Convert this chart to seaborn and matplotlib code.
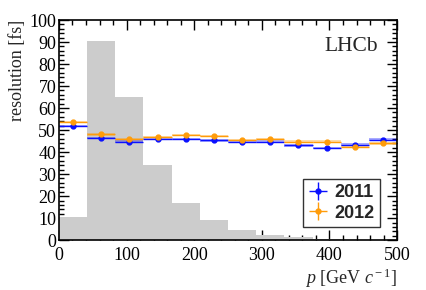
import numpy as np
import matplotlib
matplotlib.use("Agg")
import matplotlib.pyplot as plt
import seaborn as sns

# momentum bins [GeV/c]
bin_edges = [0, 41.67, 83.33, 125, 166.67, 208.33, 250, 291.67, 333.33, 375, 416.67, 458.33, 500]
# momentum distribution (grey histogram, arbitrary units)
hist_counts = [10.7, 90.5, 65.2, 34.2, 17.0, 9.0, 4.6, 2.5, 1.2, 0.5, 0.25, 0.1]
# decay time resolution [fs]
res_2011 = [51.9, 46.4, 44.8, 45.8, 45.8, 45.3, 44.6, 44.8, 43.0, 41.9, 43.3, 45.7]
res_2012 = [53.6, 48.0, 46.1, 47.0, 47.8, 47.3, 45.4, 45.8, 44.7, 44.7, 42.4, 43.9]
err_2011 = [0.6, 0.5, 0.5, 0.5, 0.5, 0.5, 0.5, 0.5, 0.6, 0.6, 0.7, 0.8]
err_2012 = [0.6, 0.5, 0.5, 0.5, 0.5, 0.5, 0.5, 0.5, 0.6, 0.6, 0.7, 0.8]

sns.set_theme(style="ticks")
plt.rcParams['font.family'] = ['Liberation Serif', 'DejaVu Serif']
plt.rcParams['mathtext.fontset'] = 'custom'
plt.rcParams['mathtext.rm'] = 'Liberation Serif'
plt.rcParams['mathtext.it'] = 'Liberation Serif:italic'

edges = np.array(bin_edges)
centers = 0.5 * (edges[:-1] + edges[1:])
half_w = 0.5 * np.diff(edges)

fig = plt.figure(figsize=(4.27, 2.90), dpi=100)
ax = fig.add_axes([0.138, 0.172, 0.792, 0.759])

sns.histplot(x=centers, weights=hist_counts, bins=bin_edges, color='#cccccc',
             element='step', fill=True, alpha=1.0, linewidth=0, ax=ax)

for res, err, col, lab in [(res_2011, err_2011, '#0a10ff', '2011'),
                           (res_2012, err_2012, '#ff9c0a', '2012')]:
    res = np.array(res)
    err = np.array(err)
    # light uncertainty band per bin
    ax.bar(centers, 2 * err, bottom=res - err, width=2 * half_w,
           color=col, alpha=0.35, linewidth=0)
    ax.errorbar(centers, res, xerr=half_w, yerr=err, fmt='o', color=col,
                markersize=3.5, elinewidth=1.0, capsize=0, label=lab)

ax.set_xlim(0, 500)
ax.set_ylim(0, 100)
ax.set_xticks(np.arange(0, 501, 100))
ax.set_xticks(np.arange(0, 501, 20), minor=True)
ax.set_yticks(np.arange(0, 101, 10))
ax.set_yticks(np.arange(0, 101, 2), minor=True)
ax.tick_params(which='both', direction='in', top=True, right=True, labelsize=13,
               width=1.0, colors='black')
ax.tick_params(which='major', length=7)
ax.tick_params(which='minor', length=3.5)
ax.tick_params(axis='x', pad=5)
ax.tick_params(axis='y', pad=2)
for s in ax.spines.values():
    s.set_linewidth(1.2)
    s.set_color('black')

ax.set_xlabel(r'$p$ [GeV $c^{\rm -1}$]', fontsize=13, loc='right', labelpad=2)
ax.set_ylabel('resolution [fs]', fontsize=13, loc='top', labelpad=2)
ax.text(0.945, 0.88, 'LHCb', transform=ax.transAxes, ha='right', va='center',
        fontsize=15.5)

leg = ax.legend(loc='lower right', bbox_to_anchor=(0.95, 0.059), frameon=True,
                fancybox=False, edgecolor='black', handlelength=1.1,
                handletextpad=0.35, borderpad=0.3, labelspacing=0.2,
                borderaxespad=0,
                prop={'family': ['Liberation Sans'], 'weight': 'bold', 'size': 13})
leg.get_frame().set_linewidth(1.0)

fig.savefig('out.png', dpi=100)
plt.close(fig)
